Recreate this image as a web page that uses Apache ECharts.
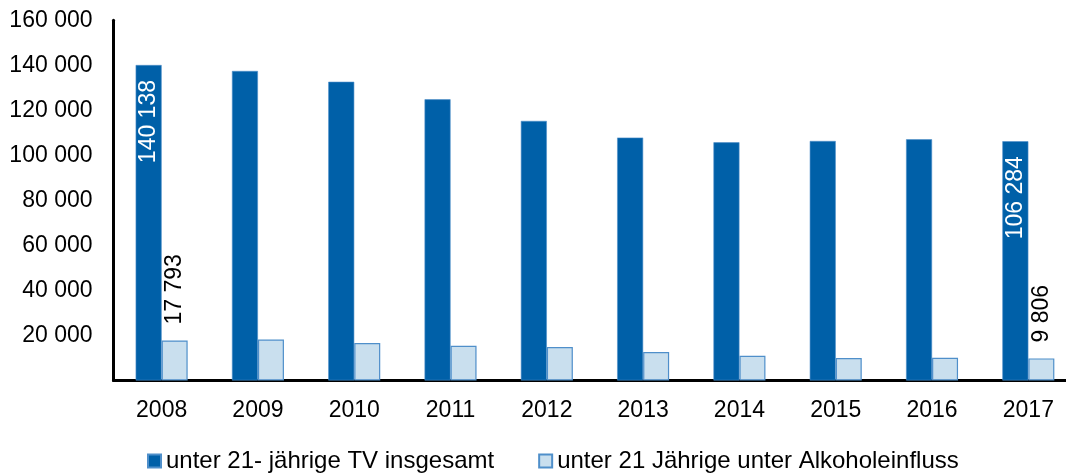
<!DOCTYPE html>
<html>
<head>
<meta charset="utf-8">
<script src="https://cdn.jsdelivr.net/npm/echarts@6/dist/echarts.min.js"></script>
<style>
  html, body { margin: 0; padding: 0; background: #fff; overflow: hidden; }
  #chart { width: 1080px; height: 475px; }
</style>
</head>
<body>
<div id="chart"></div>
<script>
// Daten
const years = ['2008', '2009', '2010', '2011', '2012', '2013', '2014', '2015', '2016', '2017'];
const tvTotal = [140138, 137500, 132700, 124900, 115300, 107900, 105800, 106400, 107150, 106284];
const tvAlcohol = [17793, 18200, 16660, 15460, 14880, 12660, 11000, 10000, 10100, 9806];
const seriesNames = ['unter 21- jährige TV insgesamt', 'unter 21 Jährige unter Alkoholeinfluss'];
// nur erstes und letztes Jahr beschriftet
const labelledIdx = [0, years.length - 1];

const FONT = "'Liberation Sans', Arial, sans-serif";

function fmt(v) {
  return String(v).replace(/\B(?=(\d{3})+(?!\d))/g, ' ');
}

// Diagramm ist etwas breiter als das Fenster, rechts abgeschnitten wie im Original
const chart = echarts.init(document.getElementById('chart'));

chart.setOption({
  animation: false,
  backgroundColor: '#fff',
  textStyle: { fontFamily: FONT },
  grid: {
    left: 113.5,
    right: 3.5,
    top: 20.3,
    bottom: 94.5,
    containLabel: false
  },
  legend: {
    left: 147,
    top: 449,
    padding: 0,
    itemWidth: 13,
    itemHeight: 13,
    itemGap: 44,
    icon: 'rect',
    textStyle: { fontFamily: FONT, fontSize: 24, color: '#000' },
    data: seriesNames
  },
  xAxis: {
    type: 'category',
    data: years,
    axisLine: { show: true, lineStyle: { color: '#000', width: 3 } },
    axisTick: { show: false },
    axisLabel: { color: '#000', fontSize: 23, fontFamily: FONT, margin: 19 }
  },
  yAxis: {
    type: 'value',
    min: 0,
    max: 160000,
    interval: 20000,
    axisLine: { show: true, lineStyle: { color: '#000', width: 3 } },
    axisTick: { show: false },
    splitLine: { show: false },
    axisLabel: {
      color: '#000',
      fontSize: 23,
      fontFamily: FONT,
      margin: 21,
      showMinLabel: false,
      formatter: v => v === 0 ? '' : fmt(v)
    }
  },
  series: [
    {
      name: seriesNames[0],
      type: 'bar',
      barWidth: 26,
      barGap: '0%',
      itemStyle: { color: '#0060a8', borderColor: '#4f8fca', borderWidth: 0.6 },
      data: tvTotal.map((v, i) => ({
        value: v,
        label: {
          show: labelledIdx.includes(i),
          position: 'insideTop',
          distance: 15,
          rotate: 90,
          align: 'right',
          verticalAlign: 'middle',
          color: '#fff',
          fontSize: 23,
          fontFamily: FONT,
          formatter: p => fmt(p.value)
        }
      }))
    },
    {
      name: seriesNames[1],
      type: 'bar',
      barWidth: 26,
      itemStyle: { color: '#c9dfee', borderColor: '#4f8fca', borderWidth: 1.2 },
      data: tvAlcohol.map((v, i) => ({
        value: v,
        label: {
          show: labelledIdx.includes(i),
          position: 'top',
          distance: 16,
          rotate: 90,
          align: 'left',
          verticalAlign: 'middle',
          color: '#000',
          fontSize: 23,
          fontFamily: FONT,
          formatter: p => fmt(p.value)
        }
      }))
    }
  ]
});
</script>
</body>
</html>
